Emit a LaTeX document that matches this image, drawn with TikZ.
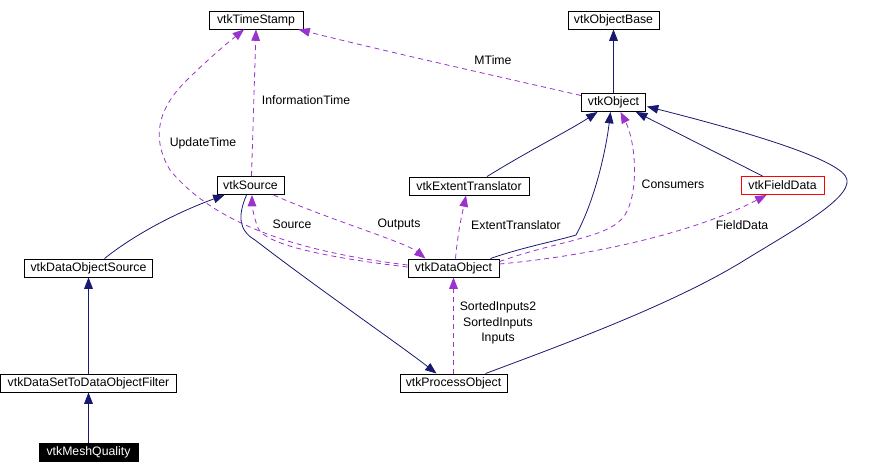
\documentclass[tikz,border=0pt]{standalone}
\usepackage{fontspec}
\setmainfont{Liberation Sans}
\usetikzlibrary{arrows.meta,calc}
\definecolor{inhc}{HTML}{191970}
\definecolor{usec}{HTML}{9A32CD}
\begin{document}
\begin{tikzpicture}[x=0.75pt,y=-0.75pt,
  cls/.style={draw=black, line width=0.7pt, fill=white, inner sep=0pt, minimum height=13.5pt, font=\fontsize{9.2}{11}\selectfont},
  lbl/.style={inner sep=0pt, font=\fontsize{9.2}{11.6}\selectfont, align=center},
  inh/.style={draw=inhc, line width=0.6pt, -{Triangle[length=8.5pt,width=6.5pt]}},
  use/.style={draw=usec, line width=0.6pt, dash pattern=on 3.75pt off 3pt, -{Triangle[length=8.5pt,width=6.5pt]}}]
\useasboundingbox (0,0) rectangle (885,474);

% nodes
\node[cls, minimum width=70.5pt] (ts) at (256,20) {vtkTimeStamp};
\node[cls, minimum width=68.25pt] (ob) at (613.5,20) {vtkObjectBase};
\node[cls, minimum width=48pt] (o) at (613.5,102.5) {vtkObject};
\node[cls, minimum width=50.25pt] (src) at (250.5,185.5) {vtkSource};
\node[cls, minimum width=90pt] (et) at (469,186) {vtkExtentTranslator};
\node[cls, draw=red, minimum width=62.25pt] (fd) at (782.5,185.5) {vtkFieldData};
\node[cls, minimum width=68.25pt] (do) at (453.5,268) {vtkDataObject};
\node[cls, minimum width=96pt] (dos) at (88.5,268) {vtkDataObjectSource};
\node[cls, minimum width=132pt] (dsf) at (88.5,383) {vtkDataSetToDataObjectFilter};
\node[cls, fill=black, text=white, minimum width=74.25pt] (mq) at (88.5,452) {vtkMeshQuality};
\node[cls, minimum width=80.25pt] (po) at (453.5,383) {vtkProcessObject};

% inheritance edges
\draw[inh] (o.north) -- (ob.south);
\draw[inh] ($(et.north)+(18,0)$) .. controls (530,150) and (570,130) .. ($(o.south)+(-16,0)$);
\draw[inh] ($(do.north east)+(-9,0)$) .. controls (520,248) and (560,240) .. (576,235)
  .. controls (595,200) and (606,150) .. ($(o.south)+(-3,0)$);
\draw[inh] ($(fd.north)+(-20,0)$) -- ($(o.south east)+(-10,0)$);
\draw[inh] ($(po.north east)+(-22,0)$) .. controls (570,342) and (670,305) .. (740,263)
  .. controls (790,232) and (850,200) .. (847,180)
  .. controls (845,160) and (740,130) .. ($(o.east)+(1,4)$);
\draw[inh] ($(src.south)+(-4,0)$) .. controls (238,215) and (238,230) .. (255,240)
  .. controls (320,290) and (400,345) .. ($(po.north)+(-17,0)$);
\draw[inh] ($(dos.north)+(16,0)$) .. controls (130,238) and (170,215) .. ($(src.south west)+(8,0)$);
\draw[inh] (dsf.north) -- (dos.south);
\draw[inh] (mq.north) -- (dsf.south);

% usage edges
\draw[use] ($(o.west)+(0,-7)$) .. controls (500,77) and (380,50) .. ($(ts.south east)+(-5,0)$);
\node[lbl] (lmt) at (493,60) {MTime};
\draw[use] ($(src.north)+(1,0)$) -- ($(ts.south)+(0,0)$);
\node[lbl] (lit) at (306,100) {InformationTime};
\draw[use] ($(do.west)+(0,-3)$) .. controls (300,252) and (215,225) .. (170,170)
  .. controls (155,145) and (152,115) .. (185,82)
  .. controls (205,62) and (225,45) .. ($(ts.south)+(-12,0)$);
\node[lbl] (lut) at (203,143) {UpdateTime};
\draw[use] ($(do.west)+(0,-1)$) .. controls (330,258) and (265,245) .. (258,228)
  .. controls (254,218) and (252,205) .. ($(src.south)+(1.5,0)$);
\node[lbl] (lsrc) at (292,224) {Source};
\draw[use] ($(src.south east)+(-11,0)$) .. controls (330,220) and (405,242) .. ($(do.north)+(-28,0)$);
\node[lbl] (lout) at (399,224) {Outputs};
\draw[use] ($(do.north)+(2,0)$) .. controls (458,230) and (463,210) .. ($(et.south)+(-3,0)$);
\node[lbl] (let) at (516,225) {ExtentTranslator};
\draw[use] ($(do.north east)+(0,3)$) .. controls (560,240) and (610,238) .. (625,215)
  .. controls (640,190) and (635,140) .. ($(o.south)+(7,0)$);
\node[lbl] (lcons) at (673,184) {Consumers};
\draw[use] ($(do.east)+(0,-4)$) .. controls (600,255) and (700,230) .. ($(fd.south)+(-16,0)$);
\node[lbl] (lfd) at (742,225) {FieldData};
\draw[use] (po.north) -- (do.south);
\node[lbl] (lin) at (498,323) {SortedInputs2\\SortedInputs\\Inputs};
\end{tikzpicture}
\end{document}
